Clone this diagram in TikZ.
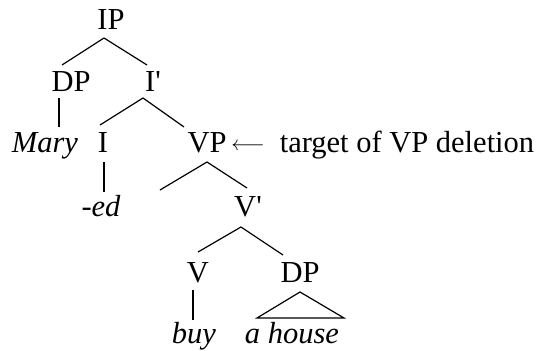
\documentclass[tikz,border=0pt]{standalone}
\usepackage{fontspec}
\setmainfont{Liberation Serif}
\begin{document}
\begin{tikzpicture}[x=1pt,y=-1pt,
  lbl/.style={anchor=base,inner sep=0pt,font=\fontsize{30.5}{34}\selectfont},
  wrd/.style={lbl,font=\fontsize{30.5}{34}\selectfont\itshape},
  edge/.style={line width=1.2pt}]
\useasboundingbox (0,0) rectangle (553,350);
\node[lbl] (IP) at (111,30) {IP};
\node[lbl] (DPa) at (71,92) {DP};
\node[lbl] (Ibar) at (153,92) {I\textquotesingle};
\node[wrd] (Mary) at (45,152) {Mary};
\node[lbl] (I) at (103,152) {I};
\node[lbl] (VP) at (207,152) {VP};
\node[anchor=base,inner sep=0pt,font=\fontsize{21}{24}\selectfont] (arr) at (248,150) {$\longleftarrow$};
\node[lbl] (tgt) at (407,152) {target of VP deletion};
\node[wrd] (ed) at (101,216) {-ed};
\coordinate (spec) at (160,190);
\node[lbl] (Vbar) at (248,216) {V\textquotesingle};
\node[lbl] (V) at (198,282) {V};
\node[lbl] (DPb) at (300,282) {DP};
\node[wrd] (buy) at (194,343) {buy};
\node[wrd] (house) at (292,343) {a house};
% edges
\draw[edge] ([shift={(-9,-27)}]DPa.base) -- ([shift={(-7,8)}]IP.base) -- ([shift={(-6,-27)}]Ibar.base);
\draw[edge] ([shift={(-12,6)}]DPa.base) -- ([shift={(14,-25)}]Mary.base);
\draw[edge] ([shift={(-3,-27)}]I.base) -- ([shift={(-10,6)}]Ibar.base) -- ([shift={(-23,-25)}]VP.base);
\draw[edge] ([shift={(1,10)}]I.base) -- ([shift={(3,-24)}]ed.base);
\draw[edge] (spec) -- ([shift={(0,10)}]VP.base) -- ([shift={(-1,-28)}]Vbar.base);
\draw[edge] ([shift={(0,-30)}]V.base) -- ([shift={(-7,11)}]Vbar.base) -- ([shift={(-17,-27)}]DPb.base);
\draw[edge] ([shift={(-5,8)}]V.base) -- ([shift={(-1,-23)}]buy.base);
\draw[edge] ([shift={(-35,-25)}]house.base) -- ([shift={(0,10)}]DPb.base) -- ([shift={(52,-25)}]house.base) -- cycle;
\end{tikzpicture}
\end{document}
